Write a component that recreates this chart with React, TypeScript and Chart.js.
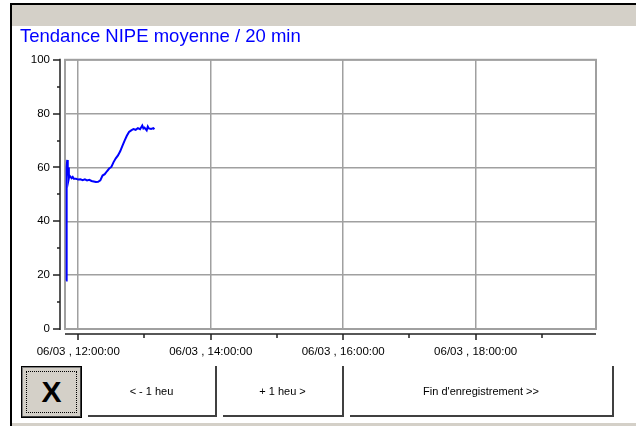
import React, { useEffect, useRef } from "react";
import { Chart, registerables } from "chart.js";

Chart.register(...registerables);

// ---- data ----
const chartTitle = "Tendance NIPE moyenne / 20 min";
const dateLabel = "06/03";
// time in minutes since midnight
const timeMinutes = [
  709, 709.5, 710, 710.5, 711, 711.5, 712, 713, 714, 715, 716, 718, 720, 722, 724, 726, 728, 730, 732,
  734, 736, 738, 740, 742, 744, 746, 748, 750, 752, 754, 756, 758, 760, 762, 764, 766, 768, 770, 772,
  774, 776, 778, 779, 780, 782, 783, 784, 786, 788, 789,
];
const nipeValues = [
  18, 60, 62.8, 57, 60, 56, 57, 56.5, 56, 56.5, 55.8, 55.8, 55.5, 55.6, 55.3, 55.6, 55.2, 55.4, 55.0,
  54.8, 54.6, 54.7, 55.2, 57.0, 57.5, 58.6, 59.6, 60.2, 62.0, 63.4, 64.5, 66.0, 68.0, 70.0, 71.8, 73.2,
  73.8, 74.3, 74.0, 74.6, 74.2, 75.6, 74.5, 74.8, 73.8, 75.2, 74.5, 74.3, 74.6, 74.2,
];
const hourTicks = [12, 13, 14, 15, 16, 17, 18, 19];
const labeledHours = [12, 14, 16, 18];
const xMinMinutes = 708;
const xMaxMinutes = 1189;
const yMin = 0;
const yMax = 100;
const yLabelStep = 20;
const yMinorStep = 10;
const buttonLabels = ["< - 1 heu", "+ 1 heu >", "Fin d'enregistrement >>"];

const FONT = "'Liberation Sans', Arial, sans-serif";
const GRID = "#a0a0a0";

const winAxesPlugin = {
  id: "winAxes",
  beforeDatasetsDraw(chart: any) {
    const ctx = chart.ctx;
    const a = chart.chartArea;
    ctx.save();
    ctx.strokeStyle = GRID;
    ctx.lineWidth = 2;
    ctx.strokeRect(a.left, a.top, a.right - a.left, a.bottom - a.top);
    ctx.restore();
  },
  afterDraw(chart: any) {
    const ctx = chart.ctx;
    const a = chart.chartArea;
    const xs = chart.scales.x;
    const ys = chart.scales.y;
    ctx.save();
    ctx.strokeStyle = "#202020";
    ctx.lineWidth = 1.5;
    ctx.beginPath();
    const ax = Math.round(a.left) - 5;
    ctx.moveTo(ax, a.top - 1);
    ctx.lineTo(ax, a.bottom + 1);
    for (let v = yMin; v <= yMax; v += yMinorStep) {
      const y = Math.round(ys.getPixelForValue(v));
      const major = v % yLabelStep === 0;
      ctx.moveTo(major ? ax - 7 : ax - 3, y);
      ctx.lineTo(ax, y);
    }
    const ay = Math.round(a.bottom) + 5;
    ctx.moveTo(a.left, ay);
    ctx.lineTo(a.right, ay);
    hourTicks.forEach((h) => {
      const x = Math.round(xs.getPixelForValue(h * 60));
      const major = labeledHours.includes(h);
      ctx.moveTo(x, ay);
      ctx.lineTo(x, ay + (major ? 6 : 4));
    });
    ctx.stroke();
    ctx.restore();
  },
};

function TrendChart() {
  const ref = useRef<HTMLCanvasElement | null>(null);
  useEffect(() => {
    if (!ref.current) return;
    const chart = new Chart(ref.current, {
      type: "line",
      data: {
        datasets: [
          {
            data: timeMinutes.map((t, i) => ({ x: t, y: nipeValues[i] })),
            borderColor: "#0000ff",
            borderWidth: 2,
            pointRadius: 0,
            tension: 0,
            fill: false,
          },
        ],
      },
      options: {
        animation: false,
        responsive: false,
        devicePixelRatio: 1,
        layout: { padding: { left: 8, right: 40, top: 0, bottom: 0 } },
        plugins: {
          legend: { display: false },
          tooltip: { enabled: false },
          title: {
            display: true,
            text: chartTitle,
            align: "start",
            color: "#0000ff",
            font: { family: FONT, size: 18.5, weight: "normal", lineHeight: 1.07 },
            padding: { top: 0, bottom: 13 },
          },
        },
        scales: {
          x: {
            type: "linear",
            min: xMinMinutes,
            max: xMaxMinutes,
            afterBuildTicks: (scale: any) => {
              scale.ticks = hourTicks.map((h) => ({ value: h * 60 }));
            },
            afterFit: (scale: any) => {
              scale.height = 38;
            },
            border: { display: false },
            grid: {
              drawTicks: false,
              lineWidth: 1.5,
              color: (c: any) =>
                c.tick && labeledHours.includes(c.tick.value / 60) ? GRID : "rgba(0,0,0,0)",
            },
            ticks: {
              autoSkip: false,
              maxRotation: 0,
              minRotation: 0,
              padding: 16,
              color: "#000",
              font: { family: FONT, size: 11.5 },
              callback: (v: any) => {
                const h = Number(v) / 60;
                return labeledHours.includes(h)
                  ? `${dateLabel} , ${String(h).padStart(2, "0")}:00:00`
                  : "";
              },
            },
          },
          y: {
            min: yMin,
            max: yMax,
            afterFit: (scale: any) => {
              scale.width = 45;
            },
            border: { display: false },
            grid: { drawTicks: false, lineWidth: 1.5, color: GRID },
            ticks: {
              stepSize: yLabelStep,
              padding: 15,
              color: "#000",
              font: { family: FONT, size: 11.5 },
            },
          },
        },
      },
      plugins: [winAxesPlugin],
    } as any);
    return () => chart.destroy();
  }, []);
  return (
    <canvas
      ref={ref}
      width={624}
      height={340}
      style={{ position: "absolute", left: 12, top: 27, width: 624, height: 340 }}
    />
  );
}

const flatBtn = (left: number, width: number): React.CSSProperties => ({
  position: "absolute",
  left,
  top: 366,
  width,
  height: 51,
  boxSizing: "border-box",
  background: "#fff",
  borderRight: "2px solid #404040",
  borderBottom: "2px solid #404040",
  display: "flex",
  alignItems: "center",
  justifyContent: "center",
  fontFamily: FONT,
  fontSize: 11,
  color: "#000",
});

export default function App() {
  return (
    <div
      style={{
        position: "absolute",
        left: 0,
        top: 0,
        width: 636,
        height: 426,
        background: "#fff",
        overflow: "hidden",
      }}
    >
      <div style={{ position: "absolute", left: 10, top: 3, width: 626, height: 2, background: "#000" }} />
      <div style={{ position: "absolute", left: 12, top: 5, width: 624, height: 21, background: "#d4d0c8" }} />
      <div style={{ position: "absolute", left: 10, top: 3, width: 2, height: 423, background: "#000" }} />
      <div style={{ position: "absolute", left: 12, top: 423, width: 624, height: 3, background: "#d4d0c8" }} />
      <TrendChart />
      <div
        style={{
          position: "absolute",
          left: 21,
          top: 366,
          width: 61,
          height: 52,
          boxSizing: "border-box",
          background: "#d4d0c8",
          border: "1px solid #000",
          boxShadow: "inset -1px -1px 0 #404040, inset 1px 1px 0 #808080",
          display: "flex",
          alignItems: "center",
          justifyContent: "center",
          fontFamily: FONT,
          fontWeight: "bold",
          fontSize: 30,
          color: "#000",
        }}
      >
        <div
          style={{
            position: "absolute",
            left: 4,
            top: 4,
            right: 4,
            bottom: 4,
            border: "1px dotted #000",
          }}
        />
        X
      </div>
      <div style={flatBtn(88, 129)}>{buttonLabels[0]}</div>
      <div style={flatBtn(223, 121)}>{buttonLabels[1]}</div>
      <div style={flatBtn(350, 264)}>{buttonLabels[2]}</div>
    </div>
  );
}
